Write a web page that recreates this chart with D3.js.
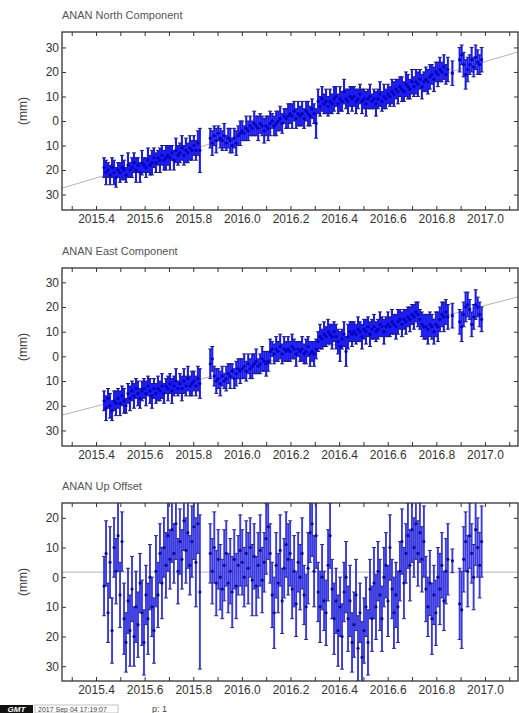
<!DOCTYPE html>
<html lang="en">
<head>
<meta charset="utf-8">
<title>ANAN time series</title>
<script src="https://d3js.org/d3.v7.min.js"></script>
<style>
  body { margin: 0; background: #fff; }
  text { font-family: "Liberation Sans", Arial, sans-serif; }
</style>
</head>
<body>
<div id="chart"></div>
<script>
// observation spans: first epoch (decimal year) and number of samples (one every 3 days)
const spanStart = [2015.433, 2015.870, 2016.866, 2016.896];
const spanCount = [49, 120, 1, 12];
const dayStep = 3 / 365.25;

// tick labels
const xTicks = [2015.4, 2015.6, 2015.8, 2016.0, 2016.2, 2016.4, 2016.6, 2016.8, 2017.0];
const xMinor = [2015.3, 2015.5, 2015.7, 2015.9, 2016.1, 2016.3, 2016.5, 2016.7, 2016.9, 2017.1];
const yTicksNE = [-30, -20, -10, 0, 10, 20, 30];
const yTicksUp = [-30, -20, -10, 0, 10, 20];

// North offsets (mm)
const northMM = [
  // 2015.43 - 2015.83
  -19,-21,-20,-22,-19,-21,-23,-20, -21,-19,-20,-22,-18,-20, -19,-17,-20,-18,-21,-17,
  -18,-19,-16,-18,-17,-15, -17,-15,-16,-14,-16,-15, -14,-15,-13,-16,-12,-14,
  -13,-11,-14,-12,-13,-11, -12,-10,-12,-9,-12,
  // 2015.87 - 2016.85
  -7,-9,-6,-8,-5,-7,-8,-6,-9,-7, -8,-10,-7,-9,-6,-5, -4,-5,-3,-4,-2,-3,
  -1,-2,-3,-1,-2,-4, -2,-3,-1,0,-2,-1, 0,1,-1,2,1,2, 3,2,4,1,3,2, 3,1,4,3,2,5, 3,-1,
  8,6,9,7,8,6, 8,7,9,10,7,9, 8,12,9,8,10,9, 10,8,9,11,8,9, 7,9,10,8,9,7,
  9,11,8,10,9,11, 10,12,11,13,12,14, 13,12,15,14,13,16, 14,16,15,17,14,16,
  17,16,18,19,17,20, 19,21,20,22,19,21,
  // 2016.87
  19.5,
  // 2016.90 - 2016.99
  25,27,23,19,21,23,25,22,26,24,23,25
];
// East offsets (mm)
const eastMM = [
  -18,-21,-17,-20,-22,-18,-19,-17, -19,-16,-18,-20,-15,-17, -14,-16,-13,-15,-17,-14,
  -13,-15,-12,-14,-16,-13, -15,-13,-14,-12,-15,-12, -13,-11,-14,-12,-10,-13,
  -11,-13,-10,-12,-9,-12, -11,-10,-12,-9,-11,
  -3,-1,-8,-10,-9,-11,-8,-10,-9,-7, -8,-6,-9,-7,-5,-6, -5,-4,-6,-3,-5,-4,
  -3,-2,-4,-3,-1,-2, -3,-2,2,3,1,3, 2,4,1,3,2,3, 2,4,3,1,3,2, 3,1,2,4,1,2, 1,3,
  6,8,7,9,8,10, 9,8,10,8,6,4, 7,9,2,8,10,9, 10,9,11,10,8,11, 10,12,9,11,12,10,
  11,13,12,10,12,13, 12,14,13,12,14,15, 13,15,14,16,15,17, 16,18,17,15,13,12,
  12,11,13,12,10,13, 12,15,17,16,18,16,
  16.5,
  14,12,17,20,21,19,13,16,21,20,17,15
];
// Up offsets (mm)
const upMM = [
  -3,8,-12,5,-18,10,2,14,-6,12, -14,-22,-8,-18,-4,-20,-10,-16,-2,-12,
  -22,-6,-14,0,-10,-18,2,-6,8,-2, 10,4,14,6,16,8,18,2,12,6, 19,9,15,4,12,17,5,18,-5,
  8,2,10,-2,6,0,-4,4,8,-2, 2,-5,6,-3,4,9, 5,0,8,3,10,-1, 7,-3,4,9,-1,5,
  13,17,8,-6,-12,4, -2,9,-8,3,11,6, 8,-4,2,-9,5,0, 8,-6,-10,3,15,18,
  2,14,-5,-10,0,-8, -12,4,14,-4,-14,-8, -18,-10,-20,-5,0,-14, -8,-22,-16,-6,-24,-12,
  -27,-18,-10,-22,-4,-14, -2,-10,2,-6,-14,0, 4,-8,10,-4,-12,-6, -10,2,12,-2,8,14,
  4,16,10,18,8,15, 6,12,-4,-10,-2,-14, -6,-12,0,-4,4,-8, 2,6,
  5.5,
  -9,-11,6,12,2,14,8,0,16,10,4,12
];

// 1-sigma errors in mm, one base-36 character per sample (a = 10, q = 26)
const northSig = "4534454345 4353445345 3454544354 4545345445 454544459" +
  "4545344534 5345454354 4354544545 5345454345 4544545445 4446545454 5454454545 4545445454 5345454544 4554545455 4545545455 5454554545" +
  "5" + "545654545545";
const eastSig = "4545445454 5345454544 4545544545 4354545345 545454456" +
  "6545454354 5345454544 4545345454 5345454545 4545345454 5454454545 4545564565 4544545454 5454454545 4545545454 5454545556 5555655655" +
  "5" + "565654556455";
const upSig = "abacbabcba cabcbacbab bacbabcbac abcabacbba abcacbfaq" +
  "abcbabacba bcabacbabc acbabcbacb abcbacbabc bacbabcabc abcbacbabc bacbcabacb cabcbacbab abcbacbabc bacbcabcab cbacbabcba bcabacbabc" +
  "4" + "cdbacbabcabc";

// model lines: value at the left and right edge of the time axis
const northTrend = [-27.4, 28.2];
const eastTrend = [-23.8, 24.1];
const upRef = [1.7, 1.7];

const epochs = [];
spanStart.forEach((t0, k) => {
  for (let i = 0; i < spanCount[k]; i++) epochs.push(t0 + i * dayStep);
});
const parseSig = s => s.replace(/ /g, "").split("").map(c => parseInt(c, 36));

const W = 519, H = 713;
const left = 62, right = 518;

const svg = d3.select("#chart").append("svg")
  .attr("width", W).attr("height", H);

const x = d3.scaleLinear().domain([2015.26, 2017.136]).range([left, right]);

const panels = [
  {id: "n", title: "ANAN  North Component", vals: northMM, sig: parseSig(northSig), trend: northTrend,
   top: 32, bottom: 210, dom: [-36.3, 36.3], yt: yTicksNE, titleY: 19,
   bar: "#1c1cf2", cap: "#1c1c6a", dot: "#0000b8", bw: 2.1},
  {id: "e", title: "ANAN  East Component", vals: eastMM, sig: parseSig(eastSig), trend: eastTrend,
   top: 268, bottom: 446, dom: [-36.3, 35.8], yt: yTicksNE, titleY: 255,
   bar: "#1c1cf2", cap: "#1c1c6a", dot: "#0000b8", bw: 2.1},
  {id: "u", title: "ANAN  Up Offset", vals: upMM, sig: parseSig(upSig), trend: upRef,
   top: 503, bottom: 681, dom: [-35, 25], yt: yTicksUp, titleY: 490,
   bar: "#3a3ae0", cap: "#2c2c78", dot: "#0a0a9a", bw: 1.9}
];

panels.forEach(p => {
  const y = d3.scaleLinear().domain(p.dom).range([p.bottom, p.top]);
  const g = svg.append("g");
  const pts = epochs.map((t, i) => ({t: t, v: p.vals[i], s: p.sig[i] || 4}));

  g.append("clipPath").attr("id", "clip-" + p.id)
    .append("rect").attr("x", left).attr("y", p.top)
    .attr("width", right - left).attr("height", p.bottom - p.top);

  const plot = g.append("g").attr("clip-path", `url(#clip-${p.id})`);

  // model / reference line
  plot.append("line")
    .attr("x1", x(x.domain()[0])).attr("x2", x(x.domain()[1]))
    .attr("y1", y(p.trend[0])).attr("y2", y(p.trend[1]))
    .attr("stroke", "#b4b4b4").attr("stroke-width", 1);

  // error bars
  plot.selectAll(".eb").data(pts).join("line")
    .attr("x1", d => x(d.t)).attr("x2", d => x(d.t))
    .attr("y1", d => y(d.v - d.s)).attr("y2", d => y(d.v + d.s))
    .attr("stroke", p.bar).attr("stroke-width", p.bw);

  // caps
  ["lo", "hi"].forEach(end => {
    plot.selectAll(".cap-" + end).data(pts).join("line")
      .attr("x1", d => x(d.t) - 2).attr("x2", d => x(d.t) + 2)
      .attr("y1", d => y(end === "lo" ? d.v - d.s : d.v + d.s))
      .attr("y2", d => y(end === "lo" ? d.v - d.s : d.v + d.s))
      .attr("stroke", p.cap).attr("stroke-width", 1);
  });

  // points
  plot.selectAll("circle").data(pts).join("circle")
    .attr("cx", d => x(d.t)).attr("cy", d => y(d.v))
    .attr("r", 1.6).attr("fill", p.dot);

  // axes, ticks pointing inward
  const fmtY = d => Math.abs(d);
  const noLab = () => "";
  const style = a => {
    a.select(".domain").remove();
    a.attr("font-size", 12).attr("font-family", "Liberation Sans, Arial, sans-serif");
    a.selectAll("line").attr("stroke", "#333");
    a.selectAll("text").attr("fill", "#333");
  };

  g.append("g").attr("transform", `translate(0,${p.bottom})`)
    .call(d3.axisBottom(x).tickValues(xTicks).tickSize(-4).tickPadding(4).tickFormat(d3.format(".1f")))
    .call(style);
  g.append("g").attr("transform", `translate(0,${p.bottom})`)
    .call(d3.axisBottom(x).tickValues(xMinor).tickSize(-4).tickFormat(noLab)).call(style);
  g.append("g").attr("transform", `translate(0,${p.top})`)
    .call(d3.axisTop(x).tickValues(xTicks.concat(xMinor)).tickSize(-4).tickFormat(noLab)).call(style);

  g.append("g").attr("transform", `translate(${left},0)`)
    .call(d3.axisLeft(y).tickValues(p.yt).tickSize(-4).tickPadding(3).tickFormat(fmtY))
    .call(style);
  g.append("g").attr("transform", `translate(${right},0)`)
    .call(d3.axisRight(y).tickValues(p.yt).tickSize(-4).tickFormat(noLab)).call(style);

  // frame
  g.append("rect").attr("x", left).attr("y", p.top)
    .attr("width", right - left).attr("height", p.bottom - p.top)
    .attr("fill", "none").attr("stroke", "#333").attr("stroke-width", 1.3);

  // title and unit
  g.append("text").attr("x", left).attr("y", p.titleY)
    .attr("font-size", 11).attr("fill", "#555").text(p.title);
  g.append("text")
    .attr("transform", `translate(27,${(p.top + p.bottom) / 2 - 10}) rotate(-90)`)
    .attr("text-anchor", "middle").attr("font-size", 12).attr("fill", "#333")
    .text("(mm)");
});

// footer: GMT stamp and page number
const foot = svg.append("g");
foot.append("rect").attr("x", 0).attr("y", 705).attr("width", 33).attr("height", 8).attr("fill", "#111");
foot.append("text").attr("x", 16.5).attr("y", 712).attr("text-anchor", "middle")
  .attr("font-size", 8).attr("font-weight", "bold").attr("font-style", "italic")
  .attr("fill", "#fff").text("GMT");
foot.append("rect").attr("x", 35).attr("y", 705).attr("width", 83).attr("height", 8)
  .attr("fill", "#fff").attr("stroke", "#999").attr("stroke-width", 0.6);
foot.append("text").attr("x", 38).attr("y", 711.5).attr("font-size", 7).attr("fill", "#444")
  .text("2017 Sep 04 17:19:07");
foot.append("text").attr("x", 152).attr("y", 712).attr("font-size", 9).attr("fill", "#444").text("p: 1");
</script>
</body>
</html>
